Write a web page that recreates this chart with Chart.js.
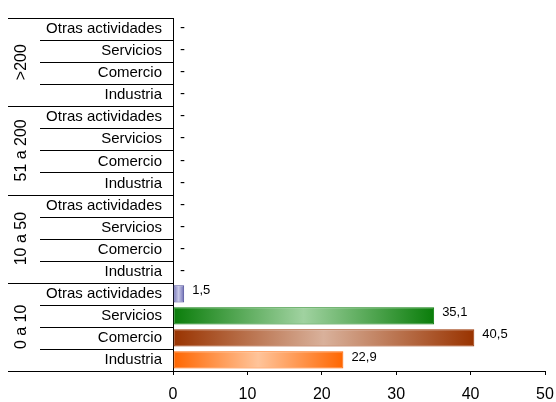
<!DOCTYPE html>
<html>
<head>
<meta charset="utf-8">
<script src="https://cdn.jsdelivr.net/npm/chart.js@4"></script>
<style>
  html, body { margin: 0; padding: 0; background: #fff; }
  #wrap { width: 556px; height: 402px; }
</style>
</head>
<body>
<div id="wrap"><canvas id="chart" width="556" height="402"></canvas></div>
<script>
// datos: grupos de tamaño (de arriba a abajo) y sectores
const groups = ['>200', '51 a 200', '10 a 50', '0 a 10'];
const sectors = ['Otras actividades', 'Servicios', 'Comercio', 'Industria'];
const valuesOver200 = [0, 0, 0, 0];
const values51to200 = [0, 0, 0, 0];
const values10to50 = [0, 0, 0, 0];
const values0to10 = [1.5, 35.1, 40.5, 22.9];
const xTicks = [0, 10, 20, 30, 40, 50];

// colores por sector: borde oscuro, centro claro
const edgeColors = ['#4d4d99', '#0a7d0a', '#993300', '#ff6600'];
const midColors = ['#c8c8e8', '#a0d2a0', '#d9b19b', '#ffc49a'];

const labels = [];
const values = [];
const groupValues = [valuesOver200, values51to200, values10to50, values0to10];
for (let g = 0; g < groups.length; g++) {
  for (let s = 0; s < sectors.length; s++) {
    labels.push(sectors[s]);
    values.push(groupValues[g][s]);
  }
}

const FONT = '"Liberation Sans", Arial, sans-serif';

function barFill(context) {
  const chart = context.chart;
  const i = context.dataIndex % sectors.length;
  if (!chart.chartArea) return edgeColors[i];
  const x = chart.scales.x;
  const x0 = x.getPixelForValue(0);
  const x1 = x.getPixelForValue(values[context.dataIndex]);
  if (x1 - x0 < 1) return edgeColors[i];
  const grad = chart.ctx.createLinearGradient(x0, 0, x1, 0);
  if (i === 0) {
    grad.addColorStop(0, '#6b6bb3');
    grad.addColorStop(0.5, midColors[i]);
    grad.addColorStop(1, '#6b6bb3');
  } else {
    grad.addColorStop(0, edgeColors[i]);
    grad.addColorStop(0.5, midColors[i]);
    grad.addColorStop(1, edgeColors[i]);
  }
  return grad;
}

// etiquetas de categorías, grupos, separadores y valores
const labelsPlugin = {
  id: 'groupedLabels',
  afterDatasetsDraw(chart) {
    const ctx = chart.ctx;
    const y = chart.scales.y;
    const x = chart.scales.x;
    const area = chart.chartArea;
    const rowH = (area.bottom - area.top) / labels.length;
    ctx.save();
    ctx.fillStyle = '#000';
    ctx.textBaseline = 'middle';

    for (let i = 0; i < labels.length; i++) {
      const cy = y.getPixelForValue(i);
      ctx.font = '15px ' + FONT;
      ctx.textAlign = 'right';
      ctx.fillText(labels[i], area.left - 11, cy);

      ctx.textAlign = 'left';
      if (values[i] === 0) {
        ctx.fillText('-', x.getPixelForValue(0) + 7, cy - 1);
      } else {
        const txt = values[i].toFixed(1).replace('.', ',');
        ctx.font = '13px ' + FONT;
        ctx.fillText(txt, x.getPixelForValue(values[i]) + 8, cy - 3);
      }
    }

    // lineas separadoras
    ctx.strokeStyle = '#000';
    ctx.lineWidth = 1;
    for (let i = 0; i <= labels.length; i++) {
      const ly = Math.round(area.top + i * rowH) + 0.5;
      const left = (i % sectors.length === 0) ? 8 : 40;
      ctx.beginPath();
      ctx.moveTo(left, ly);
      ctx.lineTo(area.left, ly);
      ctx.stroke();
    }

    // nombres de grupo (rotados)
    ctx.font = '16px ' + FONT;
    ctx.textAlign = 'center';
    for (let g = 0; g < groups.length; g++) {
      const cy = area.top + (g * sectors.length + sectors.length / 2) * rowH;
      ctx.save();
      ctx.translate(22, cy);
      ctx.rotate(-Math.PI / 2);
      ctx.fillText(groups[g], 0, 0);
      ctx.restore();
    }
    ctx.restore();
  }
};

const chart = new Chart(document.getElementById('chart').getContext('2d'), {
  type: 'bar',
  data: {
    labels: labels,
    datasets: [{
      data: values,
      backgroundColor: barFill,
      borderColor: (c) => edgeColors[c.dataIndex % sectors.length],
      borderWidth: 1,
      borderSkipped: false,
      categoryPercentage: 1,
      barPercentage: 0.78,
    }],
  },
  options: {
    indexAxis: 'y',
    responsive: false,
    animation: false,
    devicePixelRatio: 1,
    layout: { padding: { top: 18, right: 11, bottom: 0, left: 0 } },
    plugins: {
      legend: { display: false },
      tooltip: { enabled: false },
    },
    scales: {
      x: {
        min: 0,
        max: 50,
        afterBuildTicks: (scale) => { scale.ticks = xTicks.map(v => ({ value: v })); },
        afterFit: (scale) => {
          scale.height = 31;
          scale.paddingLeft = 0;
          scale.paddingRight = 0;
        },
        grid: { drawOnChartArea: false, tickLength: 4, color: '#000' },
        border: { color: '#000' },
        ticks: { color: '#000', font: { family: FONT, size: 16 }, padding: 10, maxRotation: 0, minRotation: 0, autoSkip: false },
      },
      y: {
        grid: { display: false },
        border: { color: '#000' },
        ticks: { display: false },
        afterFit: (scale) => { scale.width = 173; },
      },
    },
  },
  plugins: [labelsPlugin],
});
</script>
</body>
</html>
